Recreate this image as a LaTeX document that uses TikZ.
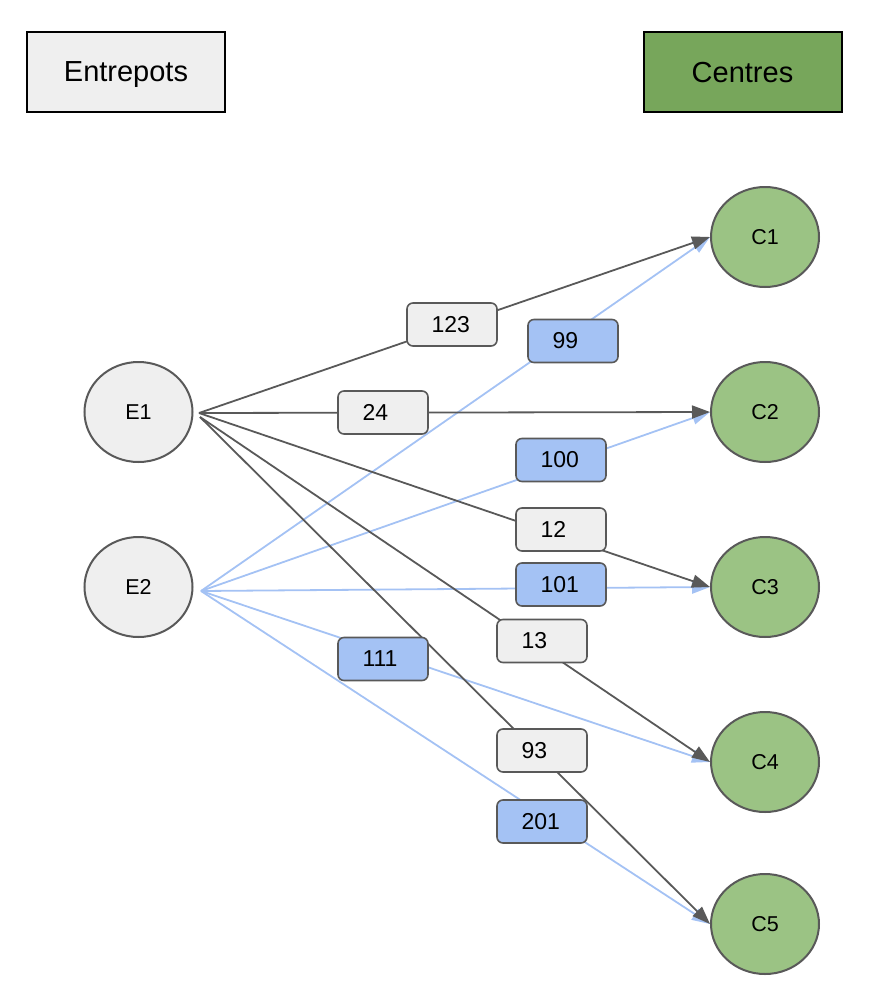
\documentclass[tikz,border=0pt]{standalone}
\usepackage{fontspec}
\setmainfont{Liberation Sans}
\usetikzlibrary{shapes.geometric,arrows.meta}
\definecolor{edgegrey}{HTML}{595959}
\definecolor{edgeblue}{HTML}{A4C2F4}
\definecolor{lightgrey}{HTML}{EFEFEF}
\definecolor{cgreen}{HTML}{9BC384}
\definecolor{hgreen}{HTML}{77A65B}
\tikzset{
  header/.style={draw=black,line width=2pt,minimum width=198pt,minimum height=80pt,inner sep=0pt,text depth=0pt,font=\fontsize{29}{32}\selectfont},
  enode/.style={ellipse,draw=edgegrey,line width=2pt,fill=lightgrey,minimum width=108pt,minimum height=100pt,inner sep=0pt,font=\fontsize{21.5}{24}\selectfont},
  cnode/.style={enode,fill=cgreen},
  gedge/.style={draw=edgegrey,line width=1.8pt,-{Triangle[length=18pt,width=13pt]}},
  bedge/.style={draw=edgeblue,line width=1.8pt,-{Triangle[length=18pt,width=13pt]}},
  glabel/.style={draw=edgegrey,line width=1.6pt,fill=lightgrey,rounded corners=6pt,minimum height=43pt,inner xsep=24.5pt,inner ysep=0pt,text width=41pt,align=left,font=\fontsize{23}{25}\selectfont},
  blabel/.style={glabel,fill=edgeblue}
}
\begin{document}
\begin{tikzpicture}[x=1pt,y=-1pt]
\useasboundingbox (0,0) rectangle (868,996);
\node[header,fill=lightgrey] (hE) at (126,72) {Entrepots};
\node[header,fill=hgreen] (hC) at (742.5,72) {Centres};

\node[enode] (E1) at (138.5,412) {E1};
\node[enode] (E2) at (138.5,587) {E2};
\node[cnode] (C1) at (765,237) {C1};
\node[cnode] (C2) at (765,412) {C2};
\node[cnode] (C3) at (765,587) {C3};
\node[cnode] (C4) at (765,762) {C4};
\node[cnode] (C5) at (765,924) {C5};

\coordinate (s1) at (199,413);
\coordinate (s1b) at (200,417);
\coordinate (s2) at (201,591);

\draw[bedge] (s2) -- (C1.west);
\draw[bedge] (s2) -- (C2.west);
\draw[bedge] (s2) -- (C3.west);
\draw[bedge] (s2) -- (C4.west);
\draw[bedge] (s2) -- (C5.west);
\draw[gedge] (s1) -- (C1.west);
\draw[gedge] (s1) -- (C2.west);
\draw[gedge] (s1) -- (C3.west);
\draw[gedge] (s1b) -- (C4.west);
\draw[gedge] (s1b) -- (C5.west);

\node[glabel] (l123) at (452,324.5) {123};
\node[blabel] (l99) at (573,341) {99};
\node[glabel] (l24) at (383,412.5) {24};
\node[blabel] (l100) at (561,460) {100};
\node[glabel] (l12) at (561,529.5) {12};
\node[blabel] (l101) at (561,584.5) {101};
\node[glabel] (l13) at (542,641) {13};
\node[blabel] (l111) at (383,659) {111};
\node[glabel] (l93) at (542,750.5) {93};
\node[blabel] (l201) at (542,821.5) {201};
\end{tikzpicture}
\end{document}
